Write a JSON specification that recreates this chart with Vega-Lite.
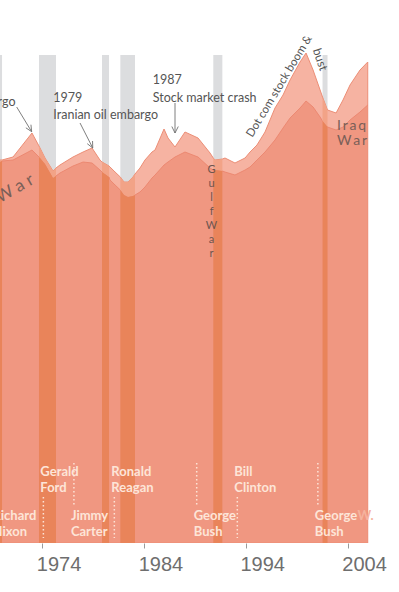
{
  "$schema": "https://vega.github.io/schema/vega-lite/v6.json",
  "width": 399,
  "height": 543,
  "autosize": {"type": "none"},
  "padding": {"left": 0, "top": 0, "right": 0, "bottom": 49},
  "background": "white",
  "config": {"view": {"stroke": null}},
  "datasets": {
    "series": [
      {"year": 1969.0, "upper": 383, "lower": 381, "rec": "1970"},
      {"year": 1969.84, "upper": 383, "lower": 381, "rec": "1970"},
      {"year": 1970.04, "upper": 383, "lower": 382, "rec": "1970"},
      {"year": 1971.12, "upper": 386, "lower": 383, "rec": null},
      {"year": 1972.98, "upper": 410, "lower": 393, "rec": null},
      {"year": 1973.67, "upper": 397, "lower": 386, "rec": "1974"},
      {"year": 1973.77, "upper": 395, "lower": 385, "rec": "1974"},
      {"year": 1974.26, "upper": 385, "lower": 379, "rec": "1974"},
      {"year": 1975.05, "upper": 372, "lower": 365, "rec": "1974"},
      {"year": 1975.34, "upper": 375, "lower": 367, "rec": "1974"},
      {"year": 1975.73, "upper": 378, "lower": 370, "rec": null},
      {"year": 1977.01, "upper": 386, "lower": 377, "rec": null},
      {"year": 1978.0, "upper": 391, "lower": 381, "rec": null},
      {"year": 1978.88, "upper": 395, "lower": 380, "rec": null},
      {"year": 1979.66, "upper": 383, "lower": 373, "rec": null},
      {"year": 1979.86, "upper": 381, "lower": 371, "rec": "1980"},
      {"year": 1980.55, "upper": 377, "lower": 366, "rec": "1980"},
      {"year": 1980.65, "upper": 376, "lower": 363, "rec": null},
      {"year": 1981.14, "upper": 371, "lower": 358, "rec": null},
      {"year": 1981.66, "upper": 366, "lower": 353, "rec": "1982"},
      {"year": 1982.02, "upper": 361, "lower": 348, "rec": "1982"},
      {"year": 1982.41, "upper": 361, "lower": 346, "rec": "1982"},
      {"year": 1982.9, "upper": 366, "lower": 347, "rec": "1982"},
      {"year": 1983.1, "upper": 369, "lower": 348, "rec": "1982"},
      {"year": 1983.59, "upper": 375, "lower": 351, "rec": null},
      {"year": 1984.08, "upper": 383, "lower": 356, "rec": null},
      {"year": 1984.77, "upper": 391, "lower": 365, "rec": null},
      {"year": 1985.07, "upper": 393, "lower": 368, "rec": null},
      {"year": 1985.95, "upper": 414, "lower": 378, "rec": null},
      {"year": 1986.34, "upper": 405, "lower": 381, "rec": null},
      {"year": 1987.03, "upper": 396, "lower": 386, "rec": null},
      {"year": 1988.01, "upper": 411, "lower": 391, "rec": null},
      {"year": 1989.29, "upper": 405, "lower": 386, "rec": null},
      {"year": 1990.47, "upper": 390, "lower": 375, "rec": null},
      {"year": 1990.79, "upper": 385, "lower": 373, "rec": "1991"},
      {"year": 1990.96, "upper": 383, "lower": 373, "rec": "1991"},
      {"year": 1991.68, "upper": 384, "lower": 372, "rec": "1991"},
      {"year": 1991.94, "upper": 385, "lower": 371, "rec": null},
      {"year": 1992.92, "upper": 380, "lower": 368, "rec": null},
      {"year": 1993.91, "upper": 385, "lower": 373, "rec": null},
      {"year": 1994.4, "upper": 391, "lower": 376, "rec": null},
      {"year": 1995.08, "upper": 398, "lower": 383, "rec": null},
      {"year": 1995.87, "upper": 411, "lower": 391, "rec": null},
      {"year": 1996.85, "upper": 435, "lower": 403, "rec": null},
      {"year": 1997.64, "upper": 448, "lower": 415, "rec": null},
      {"year": 1998.33, "upper": 463, "lower": 425, "rec": null},
      {"year": 1999.31, "upper": 481, "lower": 435, "rec": null},
      {"year": 1999.9, "upper": 490, "lower": 442, "rec": null},
      {"year": 2000.59, "upper": 473, "lower": 436, "rec": null},
      {"year": 2001.28, "upper": 453, "lower": 426, "rec": null},
      {"year": 2001.52, "upper": 446, "lower": 422, "rec": "2001"},
      {"year": 2002.01, "upper": 433, "lower": 416, "rec": "2001"},
      {"year": 2002.85, "upper": 430, "lower": 413, "rec": null},
      {"year": 2003.53, "upper": 443, "lower": 416, "rec": null},
      {"year": 2004.22, "upper": 458, "lower": 423, "rec": null},
      {"year": 2005.2, "upper": 473, "lower": 431, "rec": null},
      {"year": 2005.96, "upper": 481, "lower": 438, "rec": null}
    ],
    "recessions": [
      {"start": 1969.0, "end": 1970.04},
      {"start": 1973.67, "end": 1975.34},
      {"start": 1979.86, "end": 1980.55},
      {"start": 1981.66, "end": 1983.1},
      {"start": 1990.79, "end": 1991.68},
      {"start": 2001.52, "end": 2002.01}
    ],
    "presidents": [
      {"label": "Richard\nNixon", "year": 1969.4, "tier": "lower"},
      {"label": "Gerald\nFord", "year": 1974.1, "tier": "upper"},
      {"label": "Jimmy\nCarter", "year": 1977.1, "tier": "lower"},
      {"label": "Ronald\nReagan", "year": 1981.07, "tier": "upper"},
      {"label": "George\nBush", "year": 1989.16, "tier": "lower"},
      {"label": "Bill\nClinton", "year": 1993.15, "tier": "upper"},
      {"label": "George\nBush", "year": 2001.06, "tier": "lower"}
    ],
    "labels": [
      {"kind": "note", "year": 1975.08, "value": 441, "text": "1979"},
      {"kind": "note", "year": 1975.08, "value": 424, "text": "Iranian oil embargo"},
      {"kind": "note", "year": 1984.84, "value": 459, "text": "1987"},
      {"kind": "note", "year": 1984.84, "value": 441, "text": "Stock market crash"},
      {"kind": "noteRight", "year": 1971.36, "value": 437, "text": "Arab oil embargo"},
      {"kind": "dotcom", "year": 1994.62, "value": 405, "text": "Dot com stock boom &"},
      {"kind": "bust", "year": 2000.55, "value": 493, "text": "bust"},
      {"kind": "iraq", "year": 2002.94, "value": 413, "text": "I\u2009r\u2009a\u2009q\nW\u2009a\u2009r"},
      {"kind": "gulf", "year": 1990.62, "value": 379, "text": "G\nu\nl\nf\n \nW\na\nr"},
      {"kind": "vietnam", "year": 1973.28, "value": 360, "text": "V i e t n a m   W a r"},
      {"kind": "initial", "year": 2004.95, "value": 33, "text": "W."}
    ],
    "arrows": [
      {"x1": 1971.48, "y1": 436, "x2": 1972.95, "y2": 411.3},
      {"x1": 1972.88, "y1": 418.3, "x2": 1972.95, "y2": 411.3},
      {"x1": 1972.38, "y1": 415.2, "x2": 1972.95, "y2": 411.3},
      {"x1": 1977.7, "y1": 420, "x2": 1978.95, "y2": 395},
      {"x1": 1978.93, "y1": 402, "x2": 1978.95, "y2": 395},
      {"x1": 1978.41, "y1": 399.3, "x2": 1978.95, "y2": 395},
      {"x1": 1987.03, "y1": 440, "x2": 1987.03, "y2": 410},
      {"x1": 1986.72, "y1": 416.5, "x2": 1987.03, "y2": 410},
      {"x1": 1987.35, "y1": 416.5, "x2": 1987.03, "y2": 410}
    ]
  },
  "layer": [
    {
      "data": {"name": "recessions"},
      "mark": {"type": "rect", "color": "#dcdddf", "clip": true},
      "encoding": {
        "x": {"field": "start", "type": "quantitative",
          "scale": {"type": "linear", "domain": [1969.84, 2009.03], "nice": false, "zero": false},
          "axis": {
            "values": [1974, 1984, 1994, 2004], "format": "d", "domain": false, "grid": false,
            "ticks": true, "tickSize": 5, "tickColor": "#9a9a9a", "tickWidth": 1,
            "labelFont": "Liberation Sans", "labelFontSize": 20, "labelColor": "#6e6e6e",
            "labelAlign": "left", "labelOffset": -6, "labelPadding": 22, "labelBaseline": "alphabetic",
            "labelFlush": false, "labelOverlap": false, "title": null
          }},
        "x2": {"field": "end"},
        "y": {"datum": 0, "type": "quantitative", "scale": {"domain": [0, 543], "nice": false, "zero": true}, "axis": null},
        "y2": {"datum": 488}
      }
    },
    {
      "data": {"name": "series"},
      "mark": {"type": "area", "fill": "#f6b3a2", "stroke": "#ec8e76", "strokeWidth": 1, "clip": true},
      "encoding": {
        "x": {"field": "year", "type": "quantitative"},
        "y": {"field": "upper", "type": "quantitative", "axis": null},
        "y2": {"datum": 0}
      }
    },
    {
      "data": {"name": "series"},
      "mark": {"type": "area", "fill": "#ee8b74", "clip": true, "line": {"color": "#ea8169", "strokeWidth": 0.8}},
      "encoding": {
        "x": {"field": "year", "type": "quantitative"},
        "y": {"field": "lower", "type": "quantitative", "axis": null},
        "y2": {"datum": 0}
      }
    },
    {
      "data": {"name": "series"},
      "transform": [{"filter": "isValid(datum.rec)"}],
      "mark": {"type": "area", "fill": "#f2a387", "clip": true},
      "encoding": {
        "x": {"field": "year", "type": "quantitative"},
        "y": {"field": "upper", "type": "quantitative", "axis": null},
        "y2": {"field": "lower"},
        "detail": {"field": "rec", "type": "nominal"}
      }
    },
    {
      "data": {"name": "series"},
      "transform": [{"filter": "isValid(datum.rec)"}],
      "mark": {"type": "area", "fill": "#e9845a", "clip": true},
      "encoding": {
        "x": {"field": "year", "type": "quantitative"},
        "y": {"field": "lower", "type": "quantitative", "axis": null},
        "y2": {"datum": 0},
        "detail": {"field": "rec", "type": "nominal"}
      }
    },
    {
      "data": {"name": "presidents"},
      "transform": [{"filter": "datum.tier == 'upper'"}],
      "mark": {"type": "rule", "color": "#fde3d6", "strokeWidth": 1.5, "strokeDash": [1.5, 2.5]},
      "encoding": {
        "x": {"field": "year", "type": "quantitative"},
        "y": {"datum": 46, "type": "quantitative", "axis": null},
        "y2": {"datum": 5}
      }
    },
    {
      "data": {"name": "presidents"},
      "transform": [{"filter": "datum.tier == 'lower'"}],
      "mark": {"type": "rule", "color": "#fde3d6", "strokeWidth": 1.5, "strokeDash": [1.5, 2.5], "clip": true},
      "encoding": {
        "x": {"field": "year", "type": "quantitative"},
        "y": {"datum": 80, "type": "quantitative", "axis": null},
        "y2": {"datum": 38}
      }
    },
    {
      "data": {"name": "presidents"},
      "transform": [{"filter": "datum.tier == 'upper'"}],
      "mark": {"type": "text", "align": "left", "baseline": "top", "dx": -3, "lineBreak": "\n", "lineHeight": 16, "font": "Lato, Roboto, sans-serif", "fontSize": 13, "fontWeight": "bold", "color": "#fde5d8"},
      "encoding": {
        "x": {"field": "year", "type": "quantitative"},
        "y": {"datum": 77, "type": "quantitative", "axis": null},
        "text": {"field": "label"}
      }
    },
    {
      "data": {"name": "presidents"},
      "transform": [{"filter": "datum.tier == 'lower'"}],
      "mark": {"type": "text", "align": "left", "baseline": "top", "dx": -3, "lineBreak": "\n", "lineHeight": 16, "font": "Lato, Roboto, sans-serif", "fontSize": 13, "fontWeight": "bold", "color": "#fde5d8"},
      "encoding": {
        "x": {"field": "year", "type": "quantitative"},
        "y": {"datum": 33, "type": "quantitative", "axis": null},
        "text": {"field": "label"}
      }
    },
    {
      "data": {"name": "labels"},
      "transform": [{"filter": "datum.kind == 'initial'"}],
      "mark": {"type": "text", "align": "left", "baseline": "top", "font": "Lato, Roboto, sans-serif", "fontSize": 13, "fontWeight": "bold", "color": "#f5b39e"},
      "encoding": {
        "x": {"field": "year", "type": "quantitative"},
        "y": {"field": "value", "type": "quantitative", "axis": null},
        "text": {"field": "text"}
      }
    },
    {
      "data": {"name": "arrows"},
      "mark": {"type": "rule", "color": "#707070", "strokeWidth": 0.9},
      "encoding": {
        "x": {"field": "x1", "type": "quantitative"},
        "y": {"field": "y1", "type": "quantitative", "axis": null},
        "x2": {"field": "x2"},
        "y2": {"field": "y2"}
      }
    },
    {
      "data": {"name": "labels"},
      "transform": [{"filter": "datum.kind == 'note'"}],
      "mark": {"type": "text", "align": "left", "baseline": "alphabetic", "font": "Lato, Roboto, sans-serif", "fontSize": 12.5, "color": "#555555"},
      "encoding": {
        "x": {"field": "year", "type": "quantitative"},
        "y": {"field": "value", "type": "quantitative", "axis": null},
        "text": {"field": "text"}
      }
    },
    {
      "data": {"name": "labels"},
      "transform": [{"filter": "datum.kind == 'noteRight'"}],
      "mark": {"type": "text", "align": "right", "baseline": "alphabetic", "font": "Lato, Roboto, sans-serif", "fontSize": 12.5, "color": "#555555"},
      "encoding": {
        "x": {"field": "year", "type": "quantitative"},
        "y": {"field": "value", "type": "quantitative", "axis": null},
        "text": {"field": "text"}
      }
    },
    {
      "data": {"name": "labels"},
      "transform": [{"filter": "datum.kind == 'dotcom'"}],
      "mark": {"type": "text", "align": "left", "baseline": "alphabetic", "angle": 301, "font": "Lato, Roboto, sans-serif", "fontSize": 11.5, "color": "#555555"},
      "encoding": {
        "x": {"field": "year", "type": "quantitative"},
        "y": {"field": "value", "type": "quantitative", "axis": null},
        "text": {"field": "text"}
      }
    },
    {
      "data": {"name": "labels"},
      "transform": [{"filter": "datum.kind == 'bust'"}],
      "mark": {"type": "text", "align": "left", "baseline": "alphabetic", "angle": 71, "font": "Lato, Roboto, sans-serif", "fontSize": 12, "color": "#555555"},
      "encoding": {
        "x": {"field": "year", "type": "quantitative"},
        "y": {"field": "value", "type": "quantitative", "axis": null},
        "text": {"field": "text"}
      }
    },
    {
      "data": {"name": "labels"},
      "transform": [{"filter": "datum.kind == 'iraq'"}],
      "mark": {"type": "text", "align": "left", "baseline": "alphabetic", "lineBreak": "\n", "lineHeight": 15, "font": "Lato, Roboto, sans-serif", "fontSize": 14, "color": "#7a5f58"},
      "encoding": {
        "x": {"field": "year", "type": "quantitative"},
        "y": {"field": "value", "type": "quantitative", "axis": null},
        "text": {"field": "text"}
      }
    },
    {
      "data": {"name": "labels"},
      "transform": [{"filter": "datum.kind == 'gulf'"}],
      "mark": {"type": "text", "align": "center", "baseline": "top", "lineBreak": "\n", "lineHeight": 14, "font": "Lato, Roboto, sans-serif", "fontSize": 11, "color": "#6e554e"},
      "encoding": {
        "x": {"field": "year", "type": "quantitative"},
        "y": {"field": "value", "type": "quantitative", "axis": null},
        "text": {"field": "text"}
      }
    },
    {
      "data": {"name": "labels"},
      "transform": [{"filter": "datum.kind == 'vietnam'"}],
      "mark": {"type": "text", "align": "right", "baseline": "alphabetic", "angle": 330, "font": "Lato, Roboto, sans-serif", "fontSize": 17, "color": "#7a5f58"},
      "encoding": {
        "x": {"field": "year", "type": "quantitative"},
        "y": {"field": "value", "type": "quantitative", "axis": null},
        "text": {"field": "text"}
      }
    }
  ]
}
